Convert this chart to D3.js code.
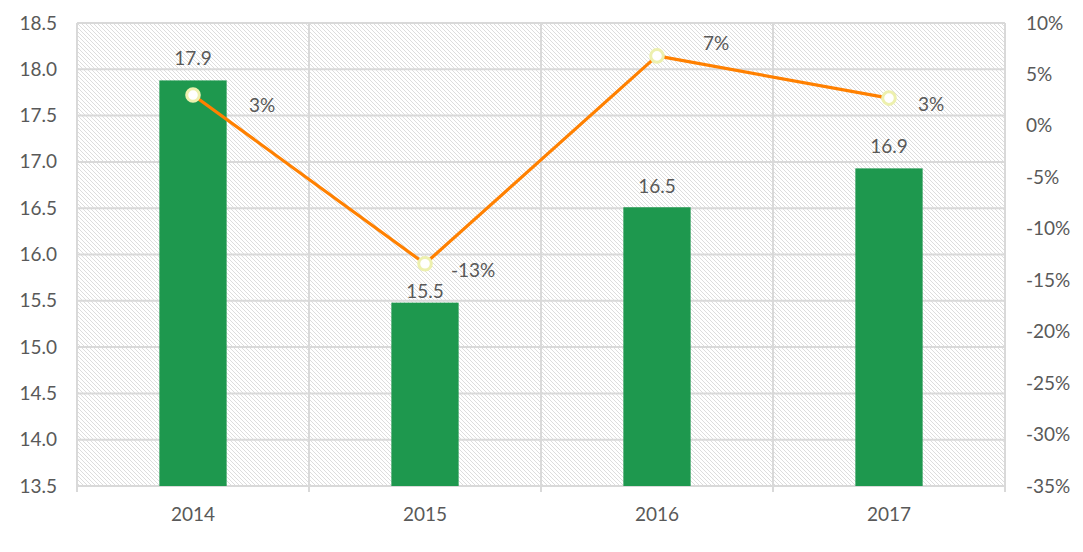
<!DOCTYPE html>
<html>
<head>
<meta charset="utf-8">
<script src="https://cdn.jsdelivr.net/npm/d3@7"></script>
<style>
  html, body { margin: 0; padding: 0; background: #fff; }
  svg { display: block; }
  text { font-family: "Lato", "DejaVu Sans", sans-serif; fill: #595959; }
</style>
</head>
<body>
<script>
const categories = ["2014", "2015", "2016", "2017"];
const barValues = [17.88, 15.48, 16.51, 16.93];
const barLabels = ["17.9", "15.5", "16.5", "16.9"];
const growthValues = [0.03, -0.134, 0.068, 0.027];
const growthLabels = ["3%", "-13%", "7%", "3%"];
const leftTicks = [13.5, 14.0, 14.5, 15.0, 15.5, 16.0, 16.5, 17.0, 17.5, 18.0, 18.5];
const rightTicks = [-0.35, -0.30, -0.25, -0.20, -0.15, -0.10, -0.05, 0, 0.05, 0.10];

// label nudges (styling only)
const barLabelDy = [-23, -12, -22, -23];
const pctLabelDx = [56, 26, 46, 29];
const pctLabelDy = [9, 6, -13, 5];

const W = 1083, H = 552;
const m = { left: 77, right: 78, top: 23, bottom: 66 };
const pw = W - m.left - m.right, ph = H - m.top - m.bottom;

const svg = d3.select("body").append("svg").attr("width", W).attr("height", H);

const defs = svg.append("defs");
const pat = defs.append("pattern").attr("id", "hatch").attr("patternUnits", "userSpaceOnUse")
  .attr("width", 4).attr("height", 4);
pat.append("rect").attr("width", 4).attr("height", 4).attr("fill", "#ffffff");
pat.append("path").attr("d", "M-1,-1 L5,5 M-1,3 L1,5 M3,-1 L5,1")
  .attr("stroke", "#d4d4d4").attr("stroke-width", 0.8);

const g = svg.append("g").attr("transform", `translate(${m.left},${m.top})`);

const x = d3.scaleBand().domain(categories).range([0, pw]).paddingInner(0).paddingOuter(0);
const yL = d3.scaleLinear().domain([13.5, 18.5]).range([ph, 0]);
const yR = d3.scaleLinear().domain([-0.35, 0.10]).range([ph, 0]);

g.append("rect").attr("width", pw).attr("height", ph).attr("fill", "url(#hatch)");

// horizontal gridlines
g.append("g").selectAll("line").data(leftTicks).join("line")
  .attr("x1", 0).attr("x2", pw)
  .attr("y1", d => yL(d)).attr("y2", d => yL(d))
  .attr("stroke", "#d9d9d9").attr("stroke-width", 2);

// vertical gridlines at category boundaries (with tick extension)
const bounds = categories.map(c => x(c)).concat([pw]);
g.append("g").selectAll("line").data(bounds).join("line")
  .attr("x1", d => d).attr("x2", d => d)
  .attr("y1", 0).attr("y2", ph + 6)
  .attr("stroke", "#d9d9d9").attr("stroke-width", 2);

// top border
g.append("line").attr("x1", 0).attr("x2", pw).attr("y1", 0).attr("y2", 0)
  .attr("stroke", "#d9d9d9").attr("stroke-width", 2);

// bars
const bw = x.bandwidth() * 0.29;
g.append("g").selectAll("rect").data(barValues).join("rect")
  .attr("x", (d, i) => x(categories[i]) + x.bandwidth() / 2 - bw / 2)
  .attr("width", bw)
  .attr("y", d => yL(d))
  .attr("height", d => ph - yL(d))
  .attr("fill", "#1e984e");

// bar labels
g.append("g").selectAll("text").data(barValues).join("text")
  .attr("x", (d, i) => x(categories[i]) + x.bandwidth() / 2)
  .attr("y", (d, i) => yL(d) + barLabelDy[i])
  .attr("text-anchor", "middle").attr("dominant-baseline", "central")
  .attr("font-size", 19)
  .text((d, i) => barLabels[i]);

// line
const line = d3.line()
  .x((d, i) => x(categories[i]) + x.bandwidth() / 2)
  .y(d => yR(d));
g.append("path").datum(growthValues).attr("d", line)
  .attr("fill", "none").attr("stroke", "#ff8000").attr("stroke-width", 3.2)
  .attr("stroke-linejoin", "round");

g.append("g").selectAll("circle").data(growthValues).join("circle")
  .attr("cx", (d, i) => x(categories[i]) + x.bandwidth() / 2)
  .attr("cy", d => yR(d))
  .attr("r", 6.3)
  .attr("fill", "#ffffff").attr("stroke", "#edf0ae").attr("stroke-width", 3);

g.append("g").selectAll("text").data(growthValues).join("text")
  .attr("x", (d, i) => x(categories[i]) + x.bandwidth() / 2 + pctLabelDx[i])
  .attr("y", (d, i) => yR(d) + pctLabelDy[i])
  .attr("text-anchor", "start").attr("dominant-baseline", "central")
  .attr("font-size", 19)
  .text((d, i) => growthLabels[i]);

// left axis
const axL = g.append("g").call(d3.axisLeft(yL).tickValues(leftTicks).tickFormat(d3.format(".1f")).tickSize(0).tickPadding(20));
axL.select(".domain").remove();
axL.selectAll("text").attr("font-size", 19).attr("font-family", null).attr("fill", "#595959");

// right axis
const pctFmt = d3.format(".0%");
const axR = g.append("g").attr("transform", `translate(${pw},0)`)
  .call(d3.axisRight(yR).tickValues(rightTicks).tickFormat(d => pctFmt(d).replace("\u2212", "-")).tickSize(0).tickPadding(21));
axR.select(".domain").remove();
axR.selectAll("text").attr("font-size", 19).attr("font-family", null).attr("fill", "#595959");

// bottom axis
const axB = g.append("g").attr("transform", `translate(0,${ph})`)
  .call(d3.axisBottom(x).tickSize(0).tickPadding(22));
axB.select(".domain").remove();
axB.selectAll("text").attr("font-size", 19).attr("font-family", null).attr("fill", "#595959");
</script>
</body>
</html>
